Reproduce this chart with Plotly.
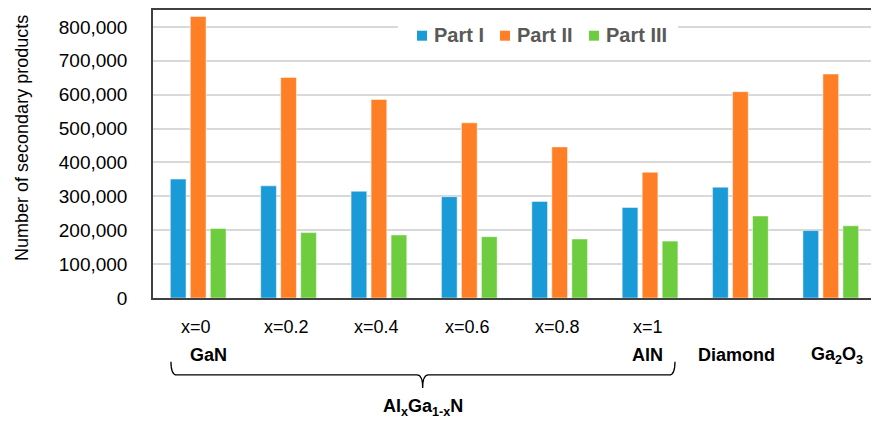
import plotly.graph_objects as go

categories = ["GaN", "x=0.2", "x=0.4", "x=0.6", "x=0.8", "AlN", "Diamond", "Ga2O3"]
x_labels = ["x=0", "x=0.2", "x=0.4", "x=0.6", "x=0.8", "x=1", "", ""]
material_labels = ["GaN", "", "", "", "", "AlN", "Diamond", "Ga<sub>2</sub>O<sub>3</sub>"]
group_label = "Al<sub>x</sub>Ga<sub>1-x</sub>N"
y_title = "Number of secondary products"

series_names = ["Part I", "Part II", "Part III"]
part1 = [351000, 331000, 315000, 299000, 285000, 267000, 327000, 199000]
part2 = [831000, 651000, 586000, 517000, 446000, 371000, 609000, 661000]
part3 = [205000, 193000, 186000, 181000, 174000, 168000, 242000, 213000]
colors = ["#1A9AD6", "#FF7F27", "#6DCD3F"]

FONT = "Liberation Sans, Arial, sans-serif"

fig = go.Figure()
for name, vals, col in zip(series_names, [part1, part2, part3], colors):
    fig.add_trace(go.Bar(
        x=list(range(len(categories))), y=vals, name=name, showlegend=False,
        marker=dict(color=col, line=dict(width=0.8, color="rgba(255,255,255,0.6)")),
    ))

annotations = []
mat_shift = {0: 10, 5: -3, 6: -4, 7: 6}
for i, t in enumerate(x_labels):
    if t:
        annotations.append(dict(x=i, y=0, xref="x", yref="paper", text=t, showarrow=False,
                                xanchor="center", yanchor="middle", xshift=-2, yshift=-29,
                                font=dict(family=FONT, size=18, color="#000000")))
for i, t in enumerate(material_labels):
    if t:
        annotations.append(dict(x=i, y=0, xref="x", yref="paper", text="<b>" + t + "</b>",
                                showarrow=False, xanchor="center", yanchor="middle",
                                xshift=mat_shift.get(i, 0), yshift=-57,
                                font=dict(family=FONT, size=18, color="#000000")))
annotations.append(dict(x=0.3756, y=0, xref="paper", yref="paper", text="<b>" + group_label + "</b>",
                        showarrow=False, xanchor="center", yanchor="middle", yshift=-109,
                        font=dict(family=FONT, size=18, color="#000000")))
# y-axis title
annotations.append(dict(x=-0.1825, y=0.5556, xref="paper", yref="paper", text=y_title,
                        textangle=-90, showarrow=False, xanchor="center", yanchor="middle",
                        font=dict(family=FONT, size=18, color="#000000")))

# legend drawn manually (paper coords)
leg_sq_x = [0.3677, 0.4833, 0.6072]
leg_txt_x = [0.3886, 0.5042, 0.6281]
shapes = [dict(type="rect", xref="paper", yref="paper", x0=0.3412, x1=0.7312, y0=0.854, y1=0.979,
               fillcolor="white", line=dict(width=0), layer="above")]
for name, col, sx, tx in zip(series_names, colors, leg_sq_x, leg_txt_x):
    shapes.append(dict(type="rect", xref="paper", yref="paper", x0=sx, x1=sx + 0.0139,
                       y0=0.8934, y1=0.9281, fillcolor=col, line=dict(width=0), layer="above"))
    annotations.append(dict(x=tx, y=0.9132, xref="paper", yref="paper", text="<b>" + name + "</b>",
                            showarrow=False, xanchor="left", yanchor="middle",
                            font=dict(family=FONT, size=20, color="#595959")))

# brace under the AlxGa1-xN group (paper coords)
x0, x1, cx = 0.025, 0.727, 0.3756
yt, yh, yb = -0.221, -0.267, -0.3125
d = 0.008
path = (f"M {x0},{yt} Q {x0},{yh} {x0+d},{yh} L {cx-d},{yh} Q {cx},{yh} {cx},{yb} "
        f"Q {cx},{yh} {cx+d},{yh} L {x1-d},{yh} Q {x1},{yh} {x1},{yt}")
shapes.append(dict(type="path", path=path, xref="paper", yref="paper",
                   line=dict(color="#000000", width=1.3)))

fig.update_layout(
    width=871, height=421,
    margin=dict(l=153, r=0, t=10, b=123),
    paper_bgcolor="white", plot_bgcolor="white",
    barmode="group", bargap=0.336, bargroupgap=0.215,
    font=dict(family=FONT, size=18, color="#000000"),
    showlegend=False,
    xaxis=dict(range=[-0.5, 7.445], showticklabels=False, showgrid=False, zeroline=False,
               showline=True, linecolor="#404040", linewidth=1.5, mirror=True, ticks=""),
    yaxis=dict(range=[0, 850000], dtick=100000, tickformat=",", showgrid=True,
               gridcolor="#D9D9D9", gridwidth=1.5, zeroline=False, showline=True,
               linecolor="#404040", linewidth=1.5, ticks="", ticklabelstandoff=20,
               tickfont=dict(family=FONT, size=19, color="#000000")),
    annotations=annotations,
    shapes=shapes,
)

fig.write_html("out.html", config={"displayModeBar": False},
               post_script="document.body.style.margin='0';document.body.style.overflow='hidden';")
